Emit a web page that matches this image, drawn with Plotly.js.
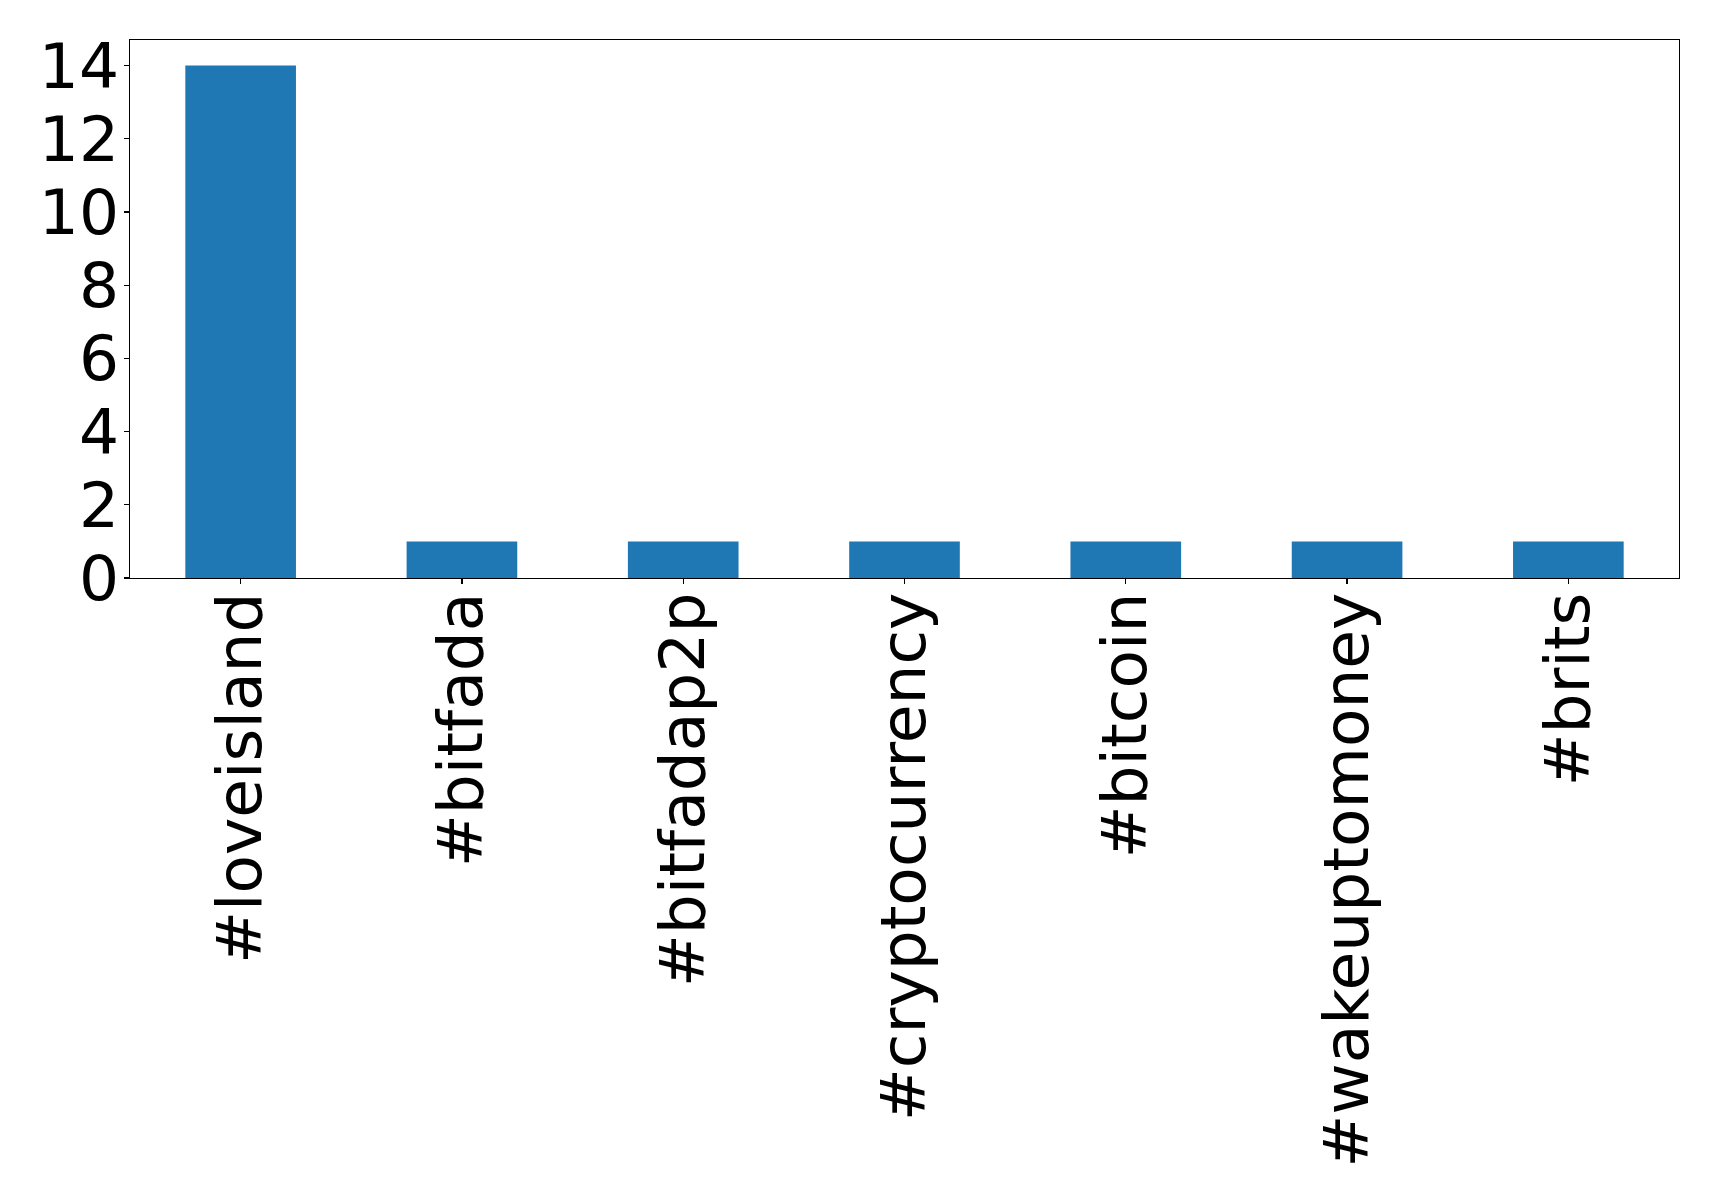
<!DOCTYPE html>
<html>
<head>
<meta charset="utf-8">
<script src="https://cdn.plot.ly/plotly-3.0.1.min.js"></script>
<style>html,body{margin:0;padding:0;background:#fff;}#chart{width:1719px;height:1198px;}</style>
</head>
<body>
<div id="chart"></div>
<script>
const categories = ["#loveisland", "#bitfada", "#bitfadap2p", "#cryptocurrency", "#bitcoin", "#wakeuptomoney", "#brits"];
const counts = [14, 1, 1, 1, 1, 1, 1];
const yTicks = [0, 2, 4, 6, 8, 10, 12, 14];

const trace = {
  type: "bar",
  x: categories,
  y: counts,
  width: 0.5,
  marker: {color: "#1f77b4", line: {width: 0}},
  hoverinfo: "x+y"
};

const layout = {
  width: 1719,
  height: 1198,
  paper_bgcolor: "#ffffff",
  plot_bgcolor: "#ffffff",
  showlegend: false,
  margin: {l: 129.5, r: 40, t: 39.5, b: 620, pad: 0},
  font: {family: "DejaVu Sans", color: "#000000", size: 63},
  xaxis: {
    type: "category",
    range: [-0.5, 6.5],
    tickangle: -90,
    ticks: "outside",
    ticklen: 5,
    tickwidth: 1.2,
    tickcolor: "#000",
    ticklabelstandoff: -17,
    showline: true,
    linecolor: "#000",
    linewidth: 1.4,
    mirror: true,
    showgrid: false,
    zeroline: false,
    tickfont: {family: "DejaVu Sans", size: 63, color: "#000"}
  },
  yaxis: {
    range: [0, 14.7],
    tickvals: yTicks,
    ticktext: yTicks.map(String),
    ticks: "outside",
    ticklen: 5,
    tickwidth: 1.2,
    tickcolor: "#000",
    ticklabelstandoff: -8,
    showline: true,
    linecolor: "#000",
    linewidth: 1.4,
    mirror: true,
    showgrid: false,
    zeroline: false,
    tickfont: {family: "DejaVu Sans", size: 63, color: "#000"}
  }
};

Plotly.newPlot("chart", [trace], layout, {displayModeBar: false, staticPlot: true});
</script>
</body>
</html>
